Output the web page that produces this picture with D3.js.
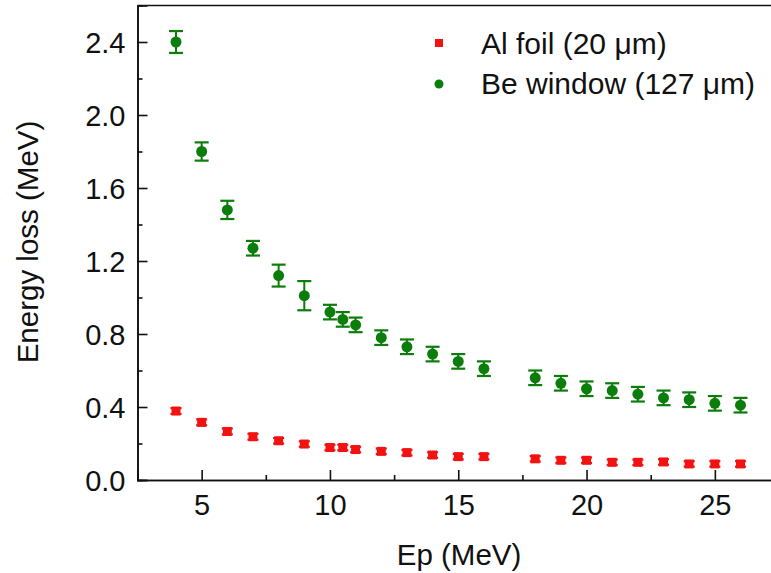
<!DOCTYPE html>
<html>
<head>
<meta charset="utf-8">
<script src="https://cdn.jsdelivr.net/npm/d3@7"></script>
<style>
  body { margin: 0; background: #fff; }
  svg { display: block; }
  text { font-family: "Liberation Sans", Arial, sans-serif; fill: #111; }
</style>
</head>
<body>
<div class="stage"></div>
<script>
// chart stage
var width = 771;
var height = 573;

// Data
var epAl = [4, 5, 6, 7, 8, 9, 10, 10.5, 11, 12, 13, 14, 15, 16, 18, 19, 20, 21, 22, 23, 24, 25, 26];
var lossAl = [0.378, 0.316, 0.266, 0.237, 0.215, 0.197, 0.178, 0.178, 0.167, 0.157, 0.150, 0.137, 0.128, 0.128, 0.116, 0.108, 0.108, 0.097, 0.097, 0.099, 0.088, 0.088, 0.088];
var errAl = [0.016, 0.016, 0.016, 0.016, 0.015, 0.015, 0.015, 0.015, 0.015, 0.015, 0.015, 0.015, 0.015, 0.015, 0.015, 0.015, 0.015, 0.015, 0.015, 0.015, 0.015, 0.015, 0.015];

var epBe = [4, 5, 6, 7, 8, 9, 10, 10.5, 11, 12, 13, 14, 15, 16, 18, 19, 20, 21, 22, 23, 24, 25, 26];
var lossBe = [2.40, 1.80, 1.48, 1.27, 1.12, 1.01, 0.92, 0.88, 0.85, 0.78, 0.73, 0.69, 0.65, 0.61, 0.56, 0.53, 0.50, 0.49, 0.47, 0.45, 0.44, 0.42, 0.41];
var errBe = [0.06, 0.05, 0.05, 0.04, 0.06, 0.08, 0.04, 0.04, 0.04, 0.04, 0.04, 0.04, 0.04, 0.04, 0.04, 0.04, 0.04, 0.04, 0.04, 0.04, 0.04, 0.04, 0.04];

var xTicks = [5, 10, 15, 20, 25];
var xMinor = [7.5, 12.5, 17.5, 22.5];
var yTicks = [0.0, 0.4, 0.8, 1.2, 1.6, 2.0, 2.4];
var yMinor = [0.2, 0.6, 1.0, 1.4, 1.8, 2.2];

var seriesNames = ['Al foil (20 \u03bcm)', 'Be window (127 \u03bcm)'];
var red = '#f21212';
var green = '#0b7d0b';

// plot box (right edge runs past the picture, as in the reference)
var padL = 137.5, padR = 779, padT = 5.5, padB = 480;

var x = d3.scaleLinear().domain([2.5, 27.5]).range([padL, padR]);
var y = d3.scaleLinear().domain([0, 2.6]).range([padB, padT]);

// CONTAINER creation
var svg = d3.select('.stage')
            .append('svg')
            .attr('width', width)
            .attr('height', height);

// AXES (ticks point inward)
svg.append('g')
  .attr('transform', 'translate(0,' + padB + ')')
  .call(d3.axisBottom(x).tickValues(xTicks).tickSize(-10).tickPadding(14).tickFormat(d3.format('d')));
svg.append('g')
  .attr('transform', 'translate(0,' + padB + ')')
  .call(d3.axisBottom(x).tickValues(xMinor).tickSize(-5).tickFormat(''));

var yAxis = svg.append('g')
  .attr('transform', 'translate(' + padL + ',0)')
  .call(d3.axisLeft(y).tickValues(yTicks).tickSize(-10).tickPadding(12).tickFormat(d3.format('.1f')));
svg.append('g')
  .attr('transform', 'translate(' + padL + ',0)')
  .call(d3.axisLeft(y).tickValues(yMinor).tickSize(-5).tickFormat(''));

// top border line
svg.append('line')
  .attr('x1', padL).attr('x2', padR)
  .attr('y1', padT).attr('y2', padT)
  .attr('stroke', '#111').attr('stroke-width', 1.6);

svg.selectAll('.domain').attr('stroke', '#111').attr('stroke-width', 1.6);
svg.selectAll('.tick line').attr('stroke', '#111').attr('stroke-width', 1.6);
svg.selectAll('.tick text')
  .style('font-size', '29px')
  .style('font-family', '"Liberation Sans", Arial, sans-serif')
  .attr('fill', '#111');
yAxis.selectAll('.tick text').attr('dy', '0.36em');

// axis titles
svg.append('text')
  .attr('x', (397 + 521) / 2)
  .attr('y', 565)
  .attr('text-anchor', 'middle')
  .style('font-size', '29.5px')
  .text('Ep (MeV)');

svg.append('text')
  .attr('transform', 'translate(38,242) rotate(-90)')
  .attr('text-anchor', 'middle')
  .style('font-size', '29.5px')
  .text('Energy loss (MeV)');

// error bar helper
var drawSeries = function(xs, ys, es, color, capW, cls) {
  var data = xs.map(function(d, i) { return [d, ys[i], es[i]]; });
  var g = svg.append('g').attr('class', cls);
  var bars = g.selectAll('g').data(data).enter().append('g');
  bars.append('line')
    .attr('x1', function(d) { return x(d[0]); })
    .attr('x2', function(d) { return x(d[0]); })
    .attr('y1', function(d) { return y(d[1] + d[2]); })
    .attr('y2', function(d) { return y(d[1] - d[2]); })
    .attr('stroke', color).attr('stroke-width', 2);
  [1, -1].forEach(function(s) {
    bars.append('line')
      .attr('x1', function(d) { return x(d[0]) - capW / 2; })
      .attr('x2', function(d) { return x(d[0]) + capW / 2; })
      .attr('y1', function(d) { return y(d[1] + s * d[2]); })
      .attr('y2', function(d) { return y(d[1] + s * d[2]); })
      .attr('stroke', color).attr('stroke-width', 2.2);
  });
  return bars;
};

// Al foil: red squares
var alBars = drawSeries(epAl, lossAl, errAl, red, 11, 'al');
alBars.append('rect')
  .attr('x', function(d) { return x(d[0]) - 4.5; })
  .attr('y', function(d) { return y(d[1]) - 4.5; })
  .attr('width', 9).attr('height', 9)
  .attr('fill', red);

// Be window: green circles
var beBars = drawSeries(epBe, lossBe, errBe, green, 14, 'be');
beBars.append('circle')
  .attr('cx', function(d) { return x(d[0]); })
  .attr('cy', function(d) { return y(d[1]); })
  .attr('r', 5.5)
  .attr('fill', green);

// LEGEND
var legend = svg.append('g');
legend.append('rect')
  .attr('x', 439 - 4).attr('y', 43 - 4)
  .attr('width', 8).attr('height', 8)
  .attr('fill', red);
legend.append('circle')
  .attr('cx', 439).attr('cy', 84).attr('r', 4.5)
  .attr('fill', green);
legend.selectAll('text.lg')
  .data(seriesNames)
  .enter()
  .append('text')
  .attr('class', 'lg')
  .attr('x', 481)
  .attr('y', function(d, i) { return 54 + i * 40; })
  .style('font-size', '30px')
  .text(function(d) { return d; });
</script>
</body>
</html>
